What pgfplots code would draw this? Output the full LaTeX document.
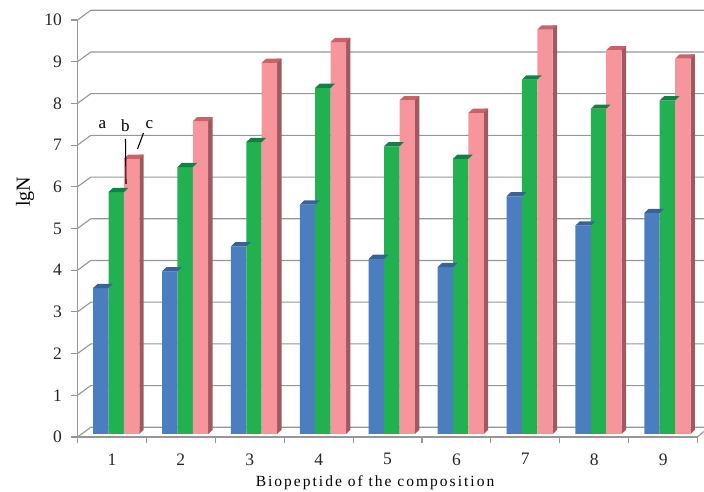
\documentclass[border=0pt]{standalone}
\usepackage{fontspec}
\setmainfont{Liberation Serif}
\usepackage{pgfplots}
\usepackage{pgfplotstable}
\pgfplotsset{compat=1.18}
\definecolor{axgray}{RGB}{150,150,150}
\definecolor{cblue}{RGB}{74,126,190}
\definecolor{ctopblue}{RGB}{56,98,152}
\definecolor{cgreen}{RGB}{34,177,80}
\definecolor{ctopgreen}{RGB}{20,128,72}
\definecolor{cpink}{RGB}{246,150,156}
\definecolor{ctoppink}{RGB}{200,100,105}
\definecolor{csidepink}{RGB}{160,90,95}
\pgfdeclareplotmark{bartop}{%
  \pgfpathmoveto{\pgfpoint{-7.7pt}{0pt}}%
  \pgfpathlineto{\pgfpoint{7.7pt}{0pt}}%
  \pgfpathlineto{\pgfpoint{12.1pt}{4.2pt}}%
  \pgfpathlineto{\pgfpoint{-3.3pt}{4.2pt}}%
  \pgfpathclose\pgfusepathqfill}
\pgfdeclareplotmark{sidebase}{%
  \pgfpathmoveto{\pgfpoint{7.7pt}{0pt}}%
  \pgfpathlineto{\pgfpoint{12.1pt}{4.2pt}}%
  \pgfpathlineto{\pgfpoint{7.7pt}{4.2pt}}%
  \pgfpathclose\pgfusepathqfill}
\pgfplotstableread{
x a b c
1 3.5 5.8 6.6
2 3.9 6.4 7.5
3 4.5 7.0 8.9
4 5.5 8.3 9.4
5 4.2 6.9 8.0
6 4.0 6.6 7.7
7 5.7 8.5 9.7
8 5.0 7.8 9.2
9 5.3 8.0 9.0
}\datatable
\pgfplotstableread{
x y
0.438 0
0.631 0.233
9.53 0.233
}\gridline
\pgfplotstableread{
x y
9.438 0
9.525 0.13
}\floorend
\pgfplotstableread{
x y
1 0
2 0
3 0
4 0
5 0
6 0
7 0
8 0
9 0
}\basetable
\begin{document}
\begin{tikzpicture}
\path[use as bounding box] (-77.5pt,-55pt) rectangle (626.5pt,437pt);
\begin{axis}[
  at={(0pt,0pt)}, anchor=south west,
  scale only axis, width=620.1pt, height=417pt,
  xmin=0.438, xmax=9.438, ymin=0, ymax=10,
  clip=false,
  axis x line*=bottom, axis y line*=left,
  axis line style={axgray,line width=1.2pt,-},
  tick style={axgray,line width=1.1pt},
  major tick length=6pt,
  tick align=outside,
  xtick={0.438,1.438,2.438,3.438,4.438,5.438,6.438,7.438,8.438,9.438},
  x tick label as interval,
  xticklabels={1,2,3,4,5,6,7,8,9},
  ytick={0,1,...,10},
  /pgf/number format/assume math mode=true,
  tick label style={font=\fontsize{17.5}{19}\selectfont,black!85},
  xticklabel style={yshift=-7pt},
  yticklabel style={xshift=-6pt},
  xlabel={},ylabel={},
]
\pgfplotsinvokeforeach{0,1,...,10}{
  \addplot[axgray,line width=1.1pt,no marks] table[x=x,y expr=\thisrow{y}+#1] {\gridline};
}
\addplot[axgray,line width=1.1pt,no marks] table[x=x,y=y] {\floorend};
\addplot[ybar,bar width=15.4pt,bar shift=-15.4pt,fill=cblue,draw=none,yshift=3pt] table[x=x,y=a] {\datatable};
\addplot[only marks,mark=bartop,mark options={fill=ctopblue,draw=none},xshift=-15.4pt,yshift=3pt] table[x=x,y=a] {\datatable};
\addplot[ybar,bar width=15.4pt,bar shift=0pt,fill=cgreen,draw=none,yshift=3pt] table[x=x,y=b] {\datatable};
\addplot[only marks,mark=bartop,mark options={fill=ctopgreen,draw=none},yshift=3pt] table[x=x,y=b] {\datatable};
\addplot[ybar,bar width=4.4pt,bar shift=25.3pt,fill=csidepink,draw=none,yshift=7.2pt] table[x=x,y=c] {\datatable};
\addplot[only marks,mark=sidebase,mark options={fill=csidepink,draw=none},xshift=15.4pt,yshift=3pt] table[x=x,y=y] {\basetable};
\addplot[ybar,bar width=15.4pt,bar shift=15.4pt,fill=cpink,draw=none,yshift=3pt] table[x=x,y=c] {\datatable};
\addplot[only marks,mark=bartop,mark options={fill=ctoppink,draw=none},xshift=15.4pt,yshift=3pt] table[x=x,y=c] {\datatable};
\end{axis}
\node[font=\fontsize{20}{22}\selectfont,rotate=90] at (-52.5pt,245pt) {lgN};
\node[font=\fontsize{15.5}{18}\selectfont\addfontfeature{LetterSpace=13}] at (297.5pt,-46pt) {Biopeptide of the composition};
\node[font=\fontsize{17}{19}\selectfont] at (25pt,312pt) {a};
\node[font=\fontsize{17}{19}\selectfont] at (48pt,311pt) {b};
\node[font=\fontsize{17}{19}\selectfont] at (72pt,312pt) {c};
\draw[black,line width=1.1pt] (48pt,298pt) -- (48.5pt,253pt);
\draw[black,line width=1.1pt] (66pt,304pt) -- (60pt,288pt);
\end{tikzpicture}
\end{document}
